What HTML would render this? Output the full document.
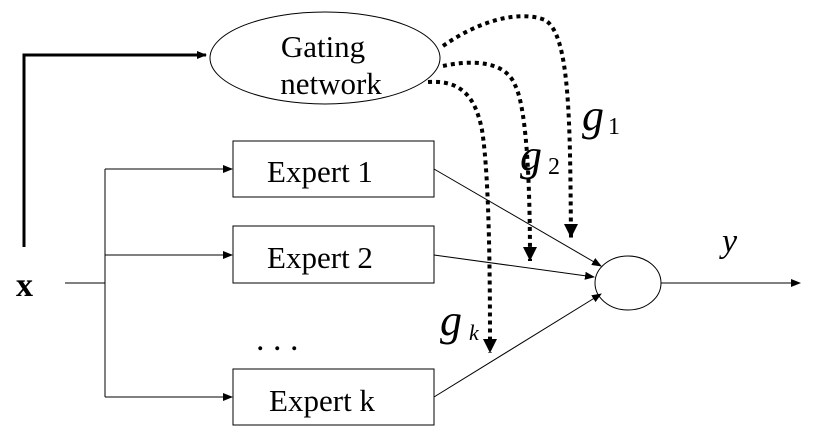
<!DOCTYPE html>
<html><head><style>body{margin:0;background:#fff}svg{display:block}text{font-family:"Liberation Serif",serif}</style></head><body>
<svg width="814" height="440" viewBox="0 0 814 440" xmlns="http://www.w3.org/2000/svg">
<defs>
<marker id="a" markerWidth="10" markerHeight="8" refX="9" refY="4" orient="auto" markerUnits="userSpaceOnUse"><path d="M0,0 L10,4 L0,8z" fill="#000"/></marker>
<marker id="b" markerWidth="14" markerHeight="14" refX="7" refY="14" orient="0" markerUnits="userSpaceOnUse"><path d="M0,0 L14,0 L7,14z" fill="#000"/></marker>
</defs>
<g stroke="#000" fill="none">
<polyline points="24,247 24,55 206,55" stroke-width="3" marker-end="url(#a)"/>
<ellipse cx="325" cy="58" rx="115" ry="46" stroke-width="1"/>
<rect x="233" y="141" width="201" height="56"/>
<rect x="233" y="226" width="201" height="57"/>
<rect x="233" y="369" width="201" height="56"/>
<line x1="65" y1="283" x2="105" y2="283"/>
<line x1="105" y1="169" x2="105" y2="397"/>
<line x1="105" y1="169" x2="232" y2="169" marker-end="url(#a)"/>
<line x1="105" y1="255" x2="232" y2="255" marker-end="url(#a)"/>
<line x1="105" y1="397" x2="232" y2="397" marker-end="url(#a)"/>
<ellipse cx="628" cy="283" rx="33" ry="27"/>
<line x1="434" y1="169" x2="601" y2="266" marker-end="url(#a)"/>
<line x1="434" y1="255" x2="594" y2="277" marker-end="url(#a)"/>
<line x1="434" y1="397" x2="601" y2="294" marker-end="url(#a)"/>
<line x1="661" y1="283" x2="800" y2="283" marker-end="url(#a)"/>
<g stroke-width="4" stroke-dasharray="4,4">
<path d="M443,46 C480,20 520,10 545,20 C570,35 570,120 571,238" marker-end="url(#b)"/>
<path d="M443,66 C470,60 505,60 515,85 C528,110 530,200 530,261" marker-end="url(#b)"/>
<path d="M428,82 C460,80 475,95 482,130 C490,180 490,300 490,353" marker-end="url(#b)"/>
</g>
</g>
<g font-size="31" text-anchor="middle">
<text x="323" y="57">Gating</text>
<text x="331" y="94">network</text>
<text x="320" y="182">Expert 1</text>
<text x="320" y="268">Expert 2</text>
<text x="322" y="411">Expert k</text>
</g>
<text x="16" y="296" font-size="34" font-weight="bold">x</text>
<text x="256" y="350" font-size="34">. . .</text>
<text x="722" y="252" font-size="34" font-style="italic">y</text>
<text x="582" y="130" font-size="44" font-style="italic">g</text><text x="608" y="134" font-size="24">1</text>
<text x="520" y="170" font-size="44" font-style="italic">g</text><text x="548" y="174" font-size="24">2</text>
<text x="440" y="335" font-size="44" font-style="italic">g</text><text x="469" y="340" font-size="22" font-style="italic">k</text>
</svg>
</body></html>
